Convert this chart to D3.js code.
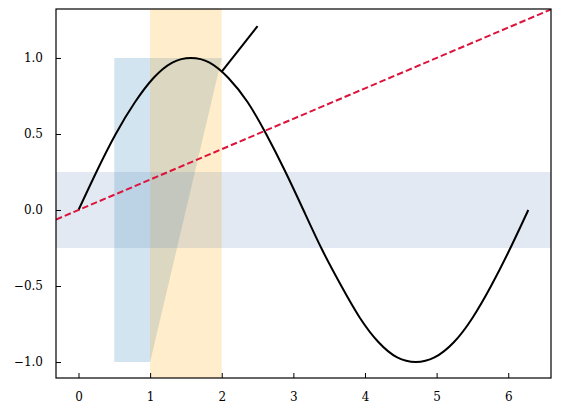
<!DOCTYPE html>
<html>
<head>
<meta charset="utf-8">
<script src="https://cdn.jsdelivr.net/npm/d3@7"></script>
<style>
  body { margin: 0; background: #fff; }
  text { font-family: "DejaVu Serif", serif; font-size: 12px; fill: #000; }
</style>
</head>
<body>
<svg id="chart" width="561" height="414"></svg>
<script>
// sine curve
var curveX = [0, 0.26, 0.52, 0.79, 1.05, 1.31, 1.57, 1.83, 2.09, 2.36, 2.62, 2.88, 3.14, 3.40, 3.67, 3.93, 4.19, 4.45, 4.71, 4.97, 5.24, 5.50, 5.76, 6.02, 6.28];
var curveY = [0, 0.26, 0.5, 0.71, 0.87, 0.97, 1.0, 0.97, 0.87, 0.71, 0.5, 0.26, 0, -0.26, -0.5, -0.71, -0.87, -0.97, -1.0, -0.97, -0.87, -0.71, -0.5, -0.26, 0];

// dashed reference line: through origin, slope
var refPoint = [0, 0];
var refSlope = 0.2;

// short black segment
var segment = [[2, 0.91], [2.5, 1.21]];

// blue polygon
var polygon = [[0.5, -1], [0.5, 1], [2, 1], [1, -1]];

// spans
var vSpan = [1, 2];
var hSpan = [-0.25, 0.25];

var xTicks = [0, 1, 2, 3, 4, 5, 6];
var yTicks = [-1.0, -0.5, 0.0, 0.5, 1.0];

var plotLeft = 56, plotRight = 551, plotTop = 9, plotBottom = 378;
var svg = d3.select("#chart");

var x = d3.scaleLinear().domain([-0.314, 6.597]).range([plotLeft, plotRight]);
var y = d3.scaleLinear().domain([-1.105, 1.322]).range([plotBottom, plotTop]);

svg.append("clipPath").attr("id", "clip")
  .append("rect").attr("x", plotLeft).attr("y", plotTop)
  .attr("width", plotRight - plotLeft).attr("height", plotBottom - plotTop);

var plot = svg.append("g").attr("clip-path", "url(#clip)");

// polygon
plot.append("path")
  .attr("d", d3.line().x(function (d) { return x(d[0]); }).y(function (d) { return y(d[1]); })(polygon) + "Z")
  .attr("fill", "#1f77b4").attr("fill-opacity", 0.2);

// vertical span
plot.append("rect")
  .attr("x", x(vSpan[0])).attr("width", x(vSpan[1]) - x(vSpan[0]))
  .attr("y", plotTop).attr("height", plotBottom - plotTop)
  .attr("fill", "#ffa500").attr("fill-opacity", 0.2);

// horizontal span
plot.append("rect")
  .attr("x", plotLeft).attr("width", plotRight - plotLeft)
  .attr("y", y(hSpan[1])).attr("height", y(hSpan[0]) - y(hSpan[1]))
  .attr("fill", "#4a78b0").attr("fill-opacity", 0.16);

// sine
var line = d3.line()
  .x(function (d, i) { return x(curveX[i]); })
  .y(function (d) { return y(d); })
  .curve(d3.curveNatural);
plot.append("path")
  .attr("d", line(curveY))
  .attr("fill", "none").attr("stroke", "#000").attr("stroke-width", 2);

// segment
plot.append("line")
  .attr("x1", x(segment[0][0])).attr("y1", y(segment[0][1]))
  .attr("x2", x(segment[1][0])).attr("y2", y(segment[1][1]))
  .attr("stroke", "#000").attr("stroke-width", 2);

// dashed line across the axes
var xd = x.domain();
plot.append("line")
  .attr("x1", x(xd[0])).attr("y1", y(refPoint[1] + refSlope * (xd[0] - refPoint[0])))
  .attr("x2", x(xd[1])).attr("y2", y(refPoint[1] + refSlope * (xd[1] - refPoint[0])))
  .attr("stroke", "#dc143c").attr("stroke-width", 2)
  .attr("stroke-dasharray", "6.5,3");

// frame
svg.append("rect")
  .attr("x", plotLeft).attr("y", plotTop)
  .attr("width", plotRight - plotLeft).attr("height", plotBottom - plotTop)
  .attr("fill", "none").attr("stroke", "#000").attr("stroke-width", 1.2);

// axes, ticks inward
var fmtY = function (d) { return d3.format(".1f")(d).replace("-", "\u2212\u2009"); };
var xAxis = svg.append("g").attr("transform", "translate(0," + plotBottom + ")")
  .call(d3.axisBottom(x).tickValues(xTicks).tickSizeInner(-5).tickSizeOuter(0).tickPadding(14).tickFormat(d3.format("d")));
var yAxis = svg.append("g").attr("transform", "translate(" + plotLeft + ",0)")
  .call(d3.axisLeft(y).tickValues(yTicks).tickSizeInner(-5).tickSizeOuter(0).tickPadding(13).tickFormat(fmtY));

[xAxis, yAxis].forEach(function (a) {
  a.select(".domain").remove();
  a.selectAll(".tick line").attr("stroke", "#000").attr("stroke-width", 1);
  a.selectAll(".tick text").attr("font-family", "DejaVu Serif").attr("font-size", 12).attr("fill", "#000");
});
</script>
</body>
</html>
